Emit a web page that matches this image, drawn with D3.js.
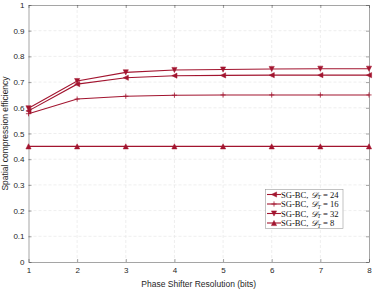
<!DOCTYPE html>
<html>
<head>
<meta charset="utf-8">
<script src="https://cdn.jsdelivr.net/npm/d3@7"></script>
<style>
body { margin: 0; background: #fff; }
text { font-family: "Liberation Sans", Arial, sans-serif; }
</style>
</head>
<body>
<div id="chart"></div>
<script>
// data
const bits = [1, 2, 3, 4, 5, 6, 7, 8];
const dt24 = [0.588, 0.692, 0.717, 0.725, 0.726, 0.727, 0.727, 0.727];
const dt16 = [0.577, 0.634, 0.645, 0.649, 0.650, 0.650, 0.650, 0.650];
const dt32 = [0.598, 0.704, 0.738, 0.747, 0.749, 0.751, 0.752, 0.752];
const dt8 = [0.45, 0.45, 0.45, 0.45, 0.45, 0.45, 0.45, 0.45];
const yTicks = [0, 0.1, 0.2, 0.3, 0.4, 0.5, 0.6, 0.7, 0.8, 0.9, 1];

const series = [
  {label: "24", values: dt24, marker: "left"},
  {label: "16", values: dt16, marker: "plus"},
  {label: "32", values: dt32, marker: "down"},
  {label: "8", values: dt8, marker: "up"}
];

const color = "#A2142F";
const margin = {top: 5, right: 5, bottom: 30, left: 28.5};
const width = 374 - margin.left - margin.right, height = 292 - margin.top - margin.bottom;

const svg = d3.select("#chart").append("svg")
  .attr("width", 374).attr("height", 292)
  .append("g")
  .attr("transform", `translate(${margin.left}, ${margin.top})`);

const x = d3.scaleLinear().domain([1, 8]).range([0, width]);
const y = d3.scaleLinear().domain([0, 1]).range([height, 0]);

// grid
svg.append("g").selectAll("line").data(bits.slice(1, -1)).join("line")
  .attr("x1", d => x(d)).attr("x2", d => x(d)).attr("y1", 0).attr("y2", height)
  .attr("stroke", "#e3e3e3").attr("stroke-dasharray", "3,2").attr("stroke-width", 0.6);
svg.append("g").selectAll("line").data(yTicks.slice(1, -1)).join("line")
  .attr("y1", d => y(d)).attr("y2", d => y(d)).attr("x1", 0).attr("x2", width)
  .attr("stroke", "#e3e3e3").attr("stroke-dasharray", "3,2").attr("stroke-width", 0.6);

// axes
const xAxis = d3.axisBottom(x).tickValues(bits).tickFormat(d3.format("d")).tickSizeInner(-3).tickSizeOuter(0).tickPadding(5);
const yAxis = d3.axisLeft(y).tickValues(yTicks).tickFormat(d => d === 0 || d === 1 ? d : d3.format(".1f")(d)).tickSizeInner(-3).tickSizeOuter(0).tickPadding(4);

svg.append("g").attr("class", "x-axis").attr("transform", `translate(0, ${height})`).call(xAxis);
svg.append("g").attr("class", "y-axis").call(yAxis);
svg.append("g").attr("class", "x-top").call(d3.axisTop(x).tickValues(bits).tickSizeInner(-3).tickSizeOuter(0).tickFormat(""));
svg.append("g").attr("class", "y-right").attr("transform", `translate(${width}, 0)`)
  .call(d3.axisRight(y).tickValues(yTicks).tickSizeInner(-3).tickSizeOuter(0).tickFormat(""));

svg.selectAll(".domain, .tick line").attr("stroke", "#262626").attr("stroke-width", 0.6).attr("stroke-opacity", 0.7);
svg.selectAll(".tick text").attr("fill", "#262626").attr("font-size", 8);

// labels
svg.append("text").attr("x", width / 2).attr("y", height + 25).attr("text-anchor", "middle")
  .attr("font-size", 8.5).attr("fill", "#262626").text("Phase Shifter Resolution (bits)");
svg.append("text").attr("transform", `translate(${-21}, ${height / 2}) rotate(-90)`).attr("text-anchor", "middle")
  .attr("font-size", 8.5).attr("fill", "#262626").text("Spatial compression efficiency");

function marker(g, type, cx, cy, s) {
  if (type === "plus") {
    g.append("path").attr("d", `M${cx - s},${cy}H${cx + s}M${cx},${cy - s}V${cy + s}`)
      .attr("stroke", color).attr("stroke-width", 0.8).attr("fill", "none");
    return;
  }
  let pts;
  if (type === "left") pts = [[cx - s, cy], [cx + s, cy - s], [cx + s, cy + s]];
  if (type === "down") pts = [[cx - s, cy - s], [cx + s, cy - s], [cx, cy + s]];
  if (type === "up") pts = [[cx - s, cy + s], [cx + s, cy + s], [cx, cy - s]];
  g.append("polygon").attr("points", pts.map(p => p.join(",")).join(" "))
    .attr("fill", color).attr("stroke", color).attr("stroke-width", 0.5);
}

const line = d3.line().x((d, i) => x(bits[i])).y(d => y(d));

series.forEach(s => {
  const g = svg.append("g");
  g.append("path").datum(s.values).attr("d", line)
    .attr("fill", "none").attr("stroke", color).attr("stroke-width", 1.1);
  s.values.forEach((v, i) => marker(g, s.marker, x(bits[i]), y(v), 2.6));
});

// legend
const lx = 265.5 - margin.left, ly = 189.5 - margin.top;
const leg = svg.append("g").attr("transform", `translate(${lx}, ${ly})`);
leg.append("rect").attr("width", 77.5).attr("height", 39).attr("fill", "#fff")
  .attr("stroke", "#999").attr("stroke-width", 0.6);
series.forEach((s, i) => {
  const cy = 5 + i * 9.5;
  leg.append("line").attr("x1", 1.5).attr("x2", 15.5).attr("y1", cy).attr("y2", cy)
    .attr("stroke", color).attr("stroke-width", 1.1);
  marker(leg, s.marker, 8.5, cy, 2.6);
  const t = leg.append("text").attr("x", 15.5).attr("y", cy + 3)
    .style("font-family", "'Liberation Serif', 'DejaVu Serif', serif").attr("font-size", 8.6).attr("fill", "#111");
  t.append("tspan").text("SG-BC, ");
  t.append("tspan").attr("font-style", "italic").text("\u{1D49F}");
  t.append("tspan").attr("font-size", 5.8).attr("dy", 1.5).attr("font-style", "italic").text("T");
  t.append("tspan").attr("dy", -1.5).text(" = " + s.label);
});
</script>
</body>
</html>
